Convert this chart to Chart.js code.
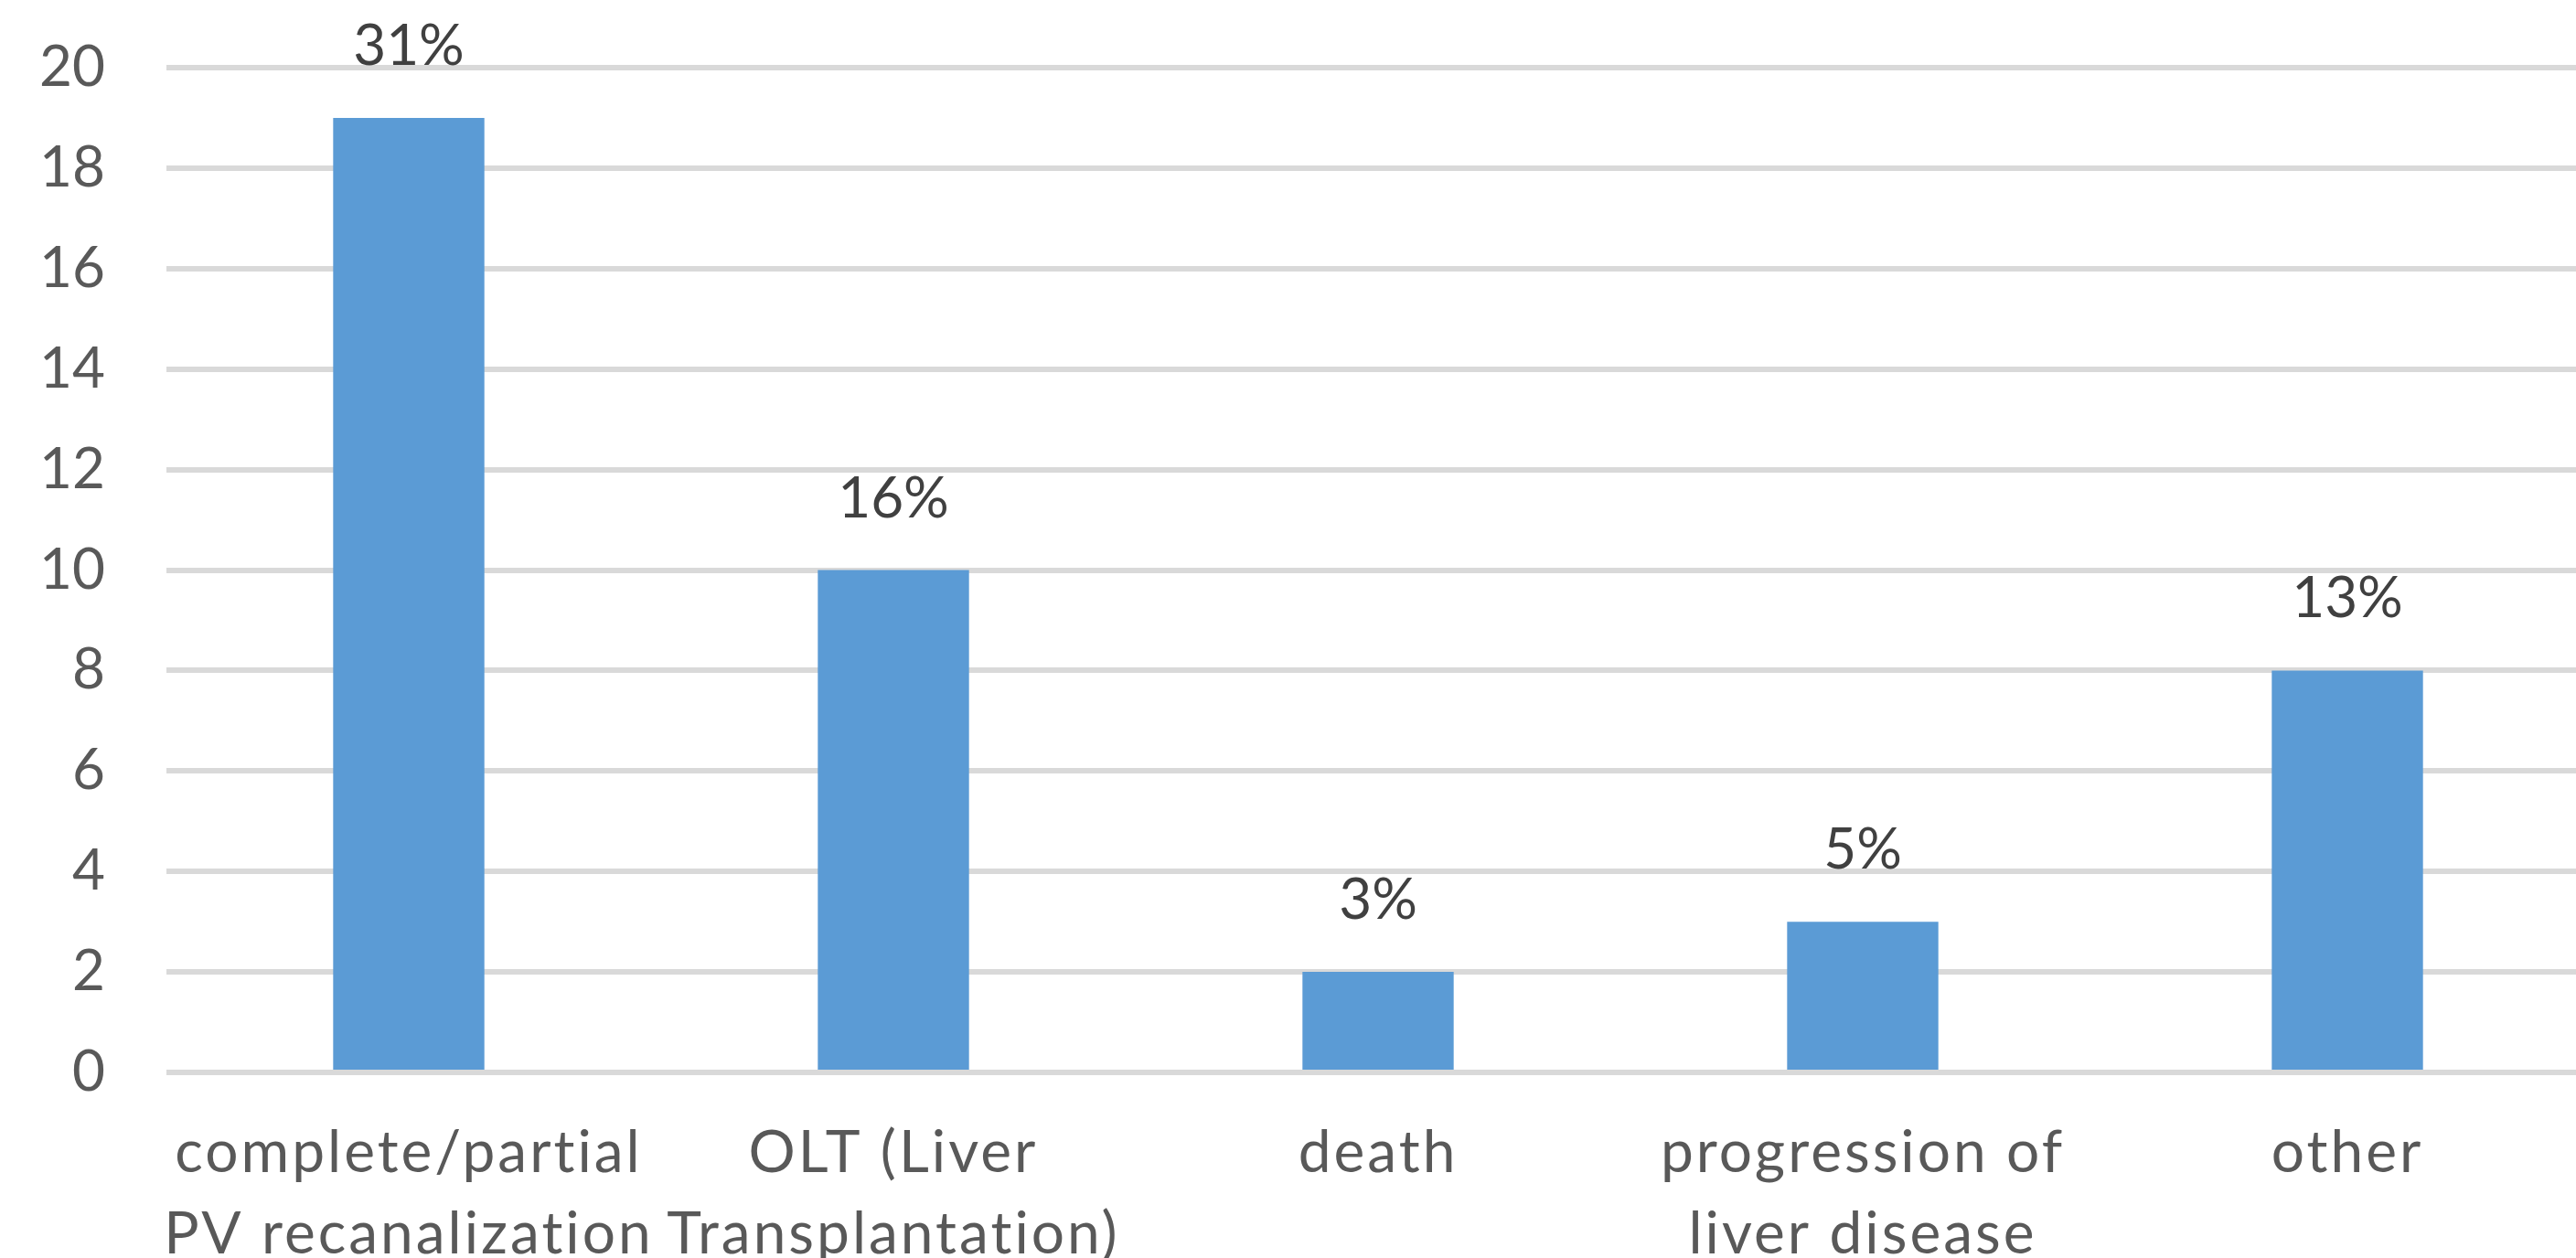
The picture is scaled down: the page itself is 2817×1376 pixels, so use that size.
<!DOCTYPE html>
<html>
<head>
<meta charset="utf-8">
<script src="https://cdn.jsdelivr.net/npm/chart.js@4.4.0/dist/chart.umd.min.js"></script>
<style>
  html, body { margin: 0; padding: 0; background: #ffffff; overflow: hidden; }
  #wrap { width: 2817px; height: 1376px; overflow: hidden; position: relative; }
  canvas { display: block; }
</style>
</head>
<body>
<div id="wrap"><canvas id="outcomes" width="2832" height="1376"></canvas></div>
<script>
// Outcome categories (multi-line axis labels)
const categories = [
  ['complete/partial', 'PV recanalization'],
  ['OLT (Liver', 'Transplantation)'],
  ['death'],
  ['progression of', 'liver disease'],
  ['other']
];
// Number of patients per outcome
const patientCounts = [19, 10, 2, 3, 8];
// Share of patients printed above each bar
const shareLabels = ['31%', '16%', '3%', '5%', '13%'];
// Value axis ticks
const yMin = 0;
const yMax = 20;
const yStep = 2;

const FONT = 'Lato, "Liberation Sans", sans-serif';

// Writes the share label above every bar, then widens the spacing
// used for the category labels that are drawn after the bars
const barLabels = {
  id: 'barLabels',
  afterDatasetsDraw(chart) {
    const ctx = chart.ctx;
    const meta = chart.getDatasetMeta(0);
    ctx.save();
    ctx.fillStyle = '#404040';
    ctx.font = '62px ' + FONT;
    ctx.textAlign = 'center';
    ctx.textBaseline = 'alphabetic';
    meta.data.forEach((bar, i) => {
      ctx.fillText(shareLabels[i], bar.x, bar.y - 58);
    });
    ctx.restore();
    ctx.letterSpacing = '3px';
  },
  afterDraw(chart) {
    chart.ctx.letterSpacing = '0px';
  }
};

new Chart(document.getElementById('outcomes'), {
  type: 'bar',
  data: {
    labels: categories,
    datasets: [{
      data: patientCounts,
      backgroundColor: '#5B9BD5',
      borderWidth: 0,
      categoryPercentage: 1.0,
      barPercentage: 0.312
    }]
  },
  options: {
    responsive: false,
    devicePixelRatio: 1,
    animation: false,
    events: [],
    layout: { padding: { top: 74, right: 0, bottom: 0, left: 0 } },
    plugins: {
      legend: { display: false },
      tooltip: { enabled: false }
    },
    scales: {
      x: {
        grid: { display: false, drawTicks: false },
        border: { display: false },
        ticks: {
          z: 1,
          color: '#595959',
          font: { family: FONT, size: 64, lineHeight: 1.39 },
          padding: 44,
          maxRotation: 0,
          autoSkip: false
        },
        afterFit(scale) { scale.height = 203; }
      },
      y: {
        min: yMin,
        max: yMax,
        grid: { color: '#d9d9d9', lineWidth: 6, drawTicks: false },
        border: { display: false },
        ticks: {
          stepSize: yStep,
          color: '#595959',
          font: { family: FONT, size: 62 },
          padding: 67
        },
        afterFit(scale) {
          scale.width = 182;
          scale.paddingTop = 0;
          scale.paddingBottom = 0;
        }
      }
    }
  },
  plugins: [barLabels]
});
</script>
</body>
</html>
